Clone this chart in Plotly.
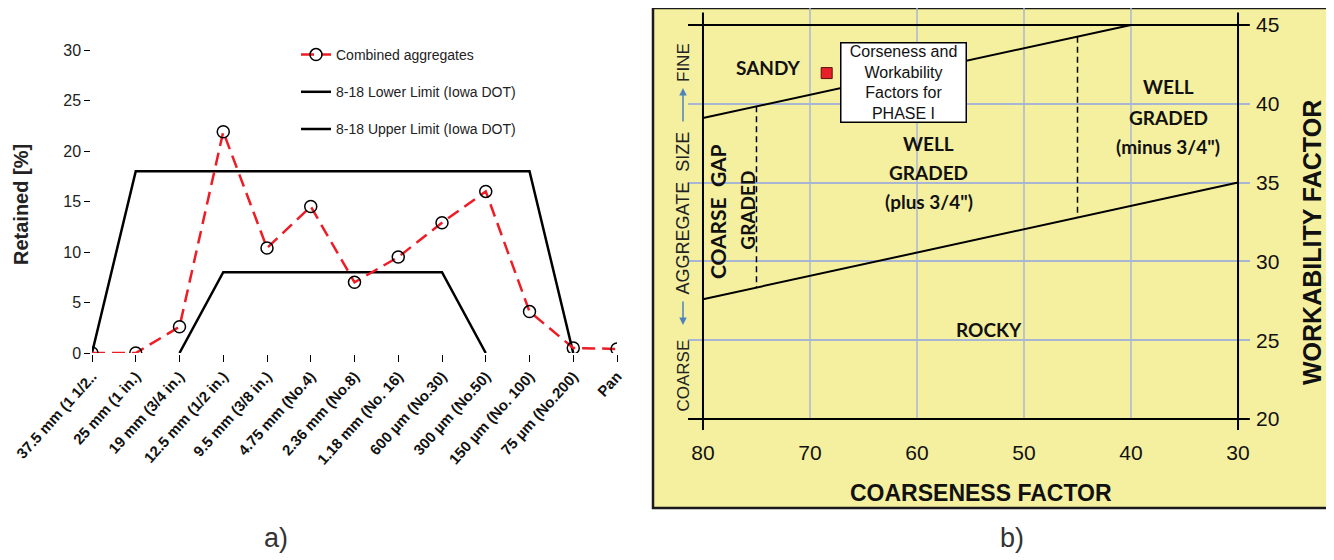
import plotly.graph_objects as go

# page body adds an 8px margin; the figure is sized/offset to fill the 1334x560 window
PAGE_W, PAGE_H = 1334, 560
OFF = 8
W, H = PAGE_W - OFF, PAGE_H - OFF

# ---------------- panel a) data ----------------
sieve_labels = ["37.5 mm (1 1/2..", "25 mm (1 in.)", "19 mm (3/4 in.)", "12.5 mm (1/2 in.)",
                "9.5 mm (3/8 in.)", "4.75 mm (No.4)", "2.36 mm (No.8)", "1.18 mm (No. 16)",
                "600 µm (No.30)", "300 µm (No.50)", "150 µm (No. 100)", "75 µm (No.200)", "Pan"]
combined = [0, 0, 2.6, 21.9, 10.4, 14.5, 7.0, 9.5, 12.9, 16.0, 4.1, 0.5, 0.4]
lower_limit = [None, None, 0, 8, 8, 8, 8, 8, 8, 0, None, None, None]
upper_limit = [0, 18, 18, 18, 18, 18, 18, 18, 18, 18, 18, 0, None]
retained_ticks = [0, 5, 10, 15, 20, 25, 30]

# ---------------- panel b) data ----------------
cf_ticks = [80, 70, 60, 50, 40, 30]
wf_ticks = [20, 25, 30, 35, 40, 45]
grid_cf = [70, 60, 50, 40]
frame_cf = [81.4, 28.9]
frame_top_wf = 45
frame_bottom_wf = 20
frame_side_cf = [80, 30]
frame_side_wf = [19.3, 45.8]
upper_boundary_cf = [80, 40]
upper_boundary_wf = [39.1, 45]
lower_boundary_cf = [80, 30]
lower_boundary_wf = [27.6, 35.0]
gap_divider_cf = [75, 75]
gap_divider_wf = [39.84, 28.34]
minus_divider_cf = [45, 45]
minus_divider_wf = [44.26, 32.78]
phase1_cf = [68.44]
phase1_wf = [41.95]

FONT = "Liberation Sans, Arial, sans-serif"
BOLDF = "Lato, Liberation Sans, Arial, sans-serif"


def px(x):
    return (x - OFF) / W


def py(y):
    return 1 - (y - OFF) / H


fig = go.Figure()

# ---- panel a traces ----
fig.add_trace(go.Scatter(x=sieve_labels, y=combined, mode="lines+markers",
                         line=dict(color="#EE1C25", width=2.5, dash="13px,7px"),
                         marker=dict(symbol="circle-open", size=12, color="black",
                                     line=dict(width=1.5, color="black")),
                         name="Combined aggregates", legendgroup="c", zorder=2,
                         xaxis="x", yaxis="y", cliponaxis=False))
fig.add_trace(go.Scatter(x=sieve_labels, y=lower_limit, mode="lines",
                         line=dict(color="black", width=2.5),
                         name="8-18 Lower Limit (Iowa DOT)", legendgroup="l", zorder=1,
                         xaxis="x", yaxis="y", cliponaxis=False))
fig.add_trace(go.Scatter(x=sieve_labels, y=upper_limit, mode="lines",
                         line=dict(color="black", width=2.5),
                         name="8-18 Upper Limit (Iowa DOT)", legendgroup="u", zorder=1,
                         xaxis="x", yaxis="y", cliponaxis=False))

# ---- panel b traces ----
for g in grid_cf:
    fig.add_trace(go.Scatter(x=[g, g], y=[frame_bottom_wf, 46.08], mode="lines",
                             line=dict(color="#A9B6D3", width=1.5), showlegend=False,
                             xaxis="x2", yaxis="y2", hoverinfo="skip"))
fig.add_trace(go.Scatter(x=frame_cf, y=[frame_top_wf, frame_top_wf], mode="lines",
                         line=dict(color="black", width=2), showlegend=False,
                         xaxis="x2", yaxis="y2", cliponaxis=False))
fig.add_trace(go.Scatter(x=frame_cf, y=[frame_bottom_wf, frame_bottom_wf], mode="lines",
                         line=dict(color="black", width=2), showlegend=False,
                         xaxis="x2", yaxis="y2", cliponaxis=False))
for c in frame_side_cf:
    fig.add_trace(go.Scatter(x=[c, c], y=frame_side_wf, mode="lines",
                             line=dict(color="black", width=2), showlegend=False,
                             xaxis="x2", yaxis="y2", cliponaxis=False))
fig.add_trace(go.Scatter(x=upper_boundary_cf, y=upper_boundary_wf, mode="lines",
                         line=dict(color="black", width=2), showlegend=False,
                         xaxis="x2", yaxis="y2"))
fig.add_trace(go.Scatter(x=lower_boundary_cf, y=lower_boundary_wf, mode="lines",
                         line=dict(color="black", width=2), showlegend=False,
                         xaxis="x2", yaxis="y2"))
fig.add_trace(go.Scatter(x=gap_divider_cf, y=gap_divider_wf, mode="lines",
                         line=dict(color="black", width=1.5, dash="6px,4px"), showlegend=False,
                         xaxis="x2", yaxis="y2"))
fig.add_trace(go.Scatter(x=minus_divider_cf, y=minus_divider_wf, mode="lines",
                         line=dict(color="black", width=1.5, dash="6px,4px"), showlegend=False,
                         xaxis="x2", yaxis="y2"))
fig.add_trace(go.Scatter(x=phase1_cf, y=phase1_wf, mode="markers",
                         marker=dict(symbol="square", size=11, color="#E8202A",
                                     line=dict(color="#5a1010", width=1)),
                         showlegend=False, xaxis="x2", yaxis="y2"))

annotations = []


def ann_b(text, x, y, size=19, bold=True, angle=0, family=BOLDF, color="#111"):
    annotations.append(dict(text=text, x=x, y=y, xref="x2", yref="y2", showarrow=False,
                            textangle=angle, xanchor="center", yanchor="middle",
                            font=dict(family=family, size=size, color=color,
                                      weight="bold" if bold else "normal")))


ann_b("SANDY", 73.9, 42.33)
ann_b("WELL", 36.54, 41.07)
ann_b("GRADED", 36.54, 39.16)
ann_b("(minus 3/4\")", 36.54, 37.26)
ann_b("WELL", 58.9, 37.51)
ann_b("GRADED", 58.9, 35.61)
ann_b("(plus 3/4\")", 58.9, 33.77)
ann_b("COARSE  GAP", 78.63, 33.17, size=21, angle=-90)
ann_b("GRADED", 75.92, 33.26, angle=-90)
ann_b("ROCKY", 53.27, 25.65)

annotations.append(dict(text="Corseness and<br>Workability<br>Factors for<br>PHASE I",
                        x=61.26, y=41.35, xref="x2", yref="y2", showarrow=False,
                        xanchor="center", yanchor="middle", bgcolor="white",
                        bordercolor="black", borderwidth=1.5, borderpad=0,
                        width=124, height=78,
                        font=dict(family=FONT, size=16, color="#111")))

# left side vertical text of panel b
for t, yy, fs in [("FINE", 63, 17), ("AGGREGATE  SIZE", 213.5, 18), ("COARSE", 375.5, 17)]:
    annotations.append(dict(text=t, x=px(683), y=py(yy), xref="paper", yref="paper",
                            showarrow=False, textangle=-90, xanchor="center", yanchor="middle",
                            font=dict(family=FONT, size=fs, color="#222")))
annotations.append(dict(text="", x=px(683), y=py(88), xref="paper", yref="paper",
                        showarrow=True, ax=0, ay=35, arrowhead=2, arrowsize=1, arrowwidth=1.5,
                        arrowcolor="#4F81BD", standoff=0, startstandoff=0))
annotations.append(dict(text="", x=px(683), y=py(325), xref="paper", yref="paper",
                        showarrow=True, ax=0, ay=-25, arrowhead=2, arrowsize=1, arrowwidth=1.5,
                        arrowcolor="#4F81BD", standoff=0, startstandoff=0))

annotations.append(dict(text="WORKABILITY FACTOR", x=px(1312), y=py(243), xref="paper", yref="paper",
                        showarrow=False, textangle=-90, xanchor="center", yanchor="middle",
                        font=dict(family=FONT, size=25, color="#111", weight="bold")))
annotations.append(dict(text="COARSENESS FACTOR", x=px(981), y=py(493), xref="paper", yref="paper",
                        showarrow=False, xanchor="center", yanchor="middle",
                        font=dict(family=FONT, size=23, color="#111", weight="bold")))
annotations.append(dict(text="Retained [%]", x=px(21), y=py(205), xref="paper", yref="paper",
                        showarrow=False, textangle=-90, xanchor="center", yanchor="middle",
                        borderpad=0,
                        font=dict(family=FONT, size=20, color="#222", weight="bold")))
annotations.append(dict(text="a)", x=px(276), y=py(538), xref="paper", yref="paper",
                        showarrow=False, xanchor="center", yanchor="middle",
                        font=dict(family=FONT, size=27, color="#333")))
annotations.append(dict(text="b)", x=px(1012), y=py(538), xref="paper", yref="paper",
                        showarrow=False, xanchor="center", yanchor="middle",
                        font=dict(family=FONT, size=27, color="#333")))

shapes = [dict(type="rect", xref="paper", yref="paper", x0=px(653), x1=1.02,
               y0=py(508), y1=py(8), fillcolor="#F5F0A0", line=dict(color="#1a1a1a", width=2.5),
               layer="below")]

fig.update_layout(
    template="none",
    width=W, height=H, autosize=False,
    margin=dict(l=0, r=0, t=0, b=0),
    paper_bgcolor="white", plot_bgcolor="rgba(0,0,0,0)",
    font=dict(family=FONT, color="#222"),
    showlegend=True,
    legend=dict(x=px(296), y=py(39), xanchor="left", yanchor="top",
                bgcolor="rgba(0,0,0,0)", font=dict(family=FONT, size=14, color="#222"),
                tracegroupgap=16, traceorder="grouped"),
    xaxis=dict(domain=[px(92), px(617)], type="category", categoryorder="array",
               categoryarray=sieve_labels, range=[0, 12], showline=True, linecolor="black",
               linewidth=1.5, ticks="outside", ticklen=7, tickcolor="black", tickwidth=1.2,
               tickangle=-48, showgrid=False, zeroline=False, automargin=False,
               tickfont=dict(family=FONT, size=15, color="#111", weight="bold"),
               anchor="y"),
    yaxis=dict(domain=[py(353), py(50)], range=[0, 30], tickvals=retained_ticks,
               showline=True, linecolor="black", linewidth=1.5, ticks="outside", ticklen=6,
               tickcolor="black", showgrid=False, zeroline=False, automargin=False,
               tickfont=dict(family=FONT, size=16, color="#222"), anchor="x"),
    xaxis2=dict(domain=[px(688), px(1250)], range=[81.4, 28.88], tickvals=cf_ticks,
                showline=False, showgrid=False, zeroline=False, ticks="", automargin=False,
                ticklabelstandoff=8,
                tickfont=dict(family=FONT, size=21, color="#111"), anchor="y2"),
    yaxis2=dict(domain=[py(430), py(8)], range=[19.3, 46.08], tickvals=wf_ticks,
                side="right", showline=False, showgrid=True, gridcolor="#A9B6D3", gridwidth=1.5,
                zeroline=False, ticks="", automargin=False, ticklabelstandoff=5,
                tickfont=dict(family=FONT, size=21, color="#111"), anchor="x2"),
    annotations=annotations,
    shapes=shapes,
)

fig.write_html("out.html")
